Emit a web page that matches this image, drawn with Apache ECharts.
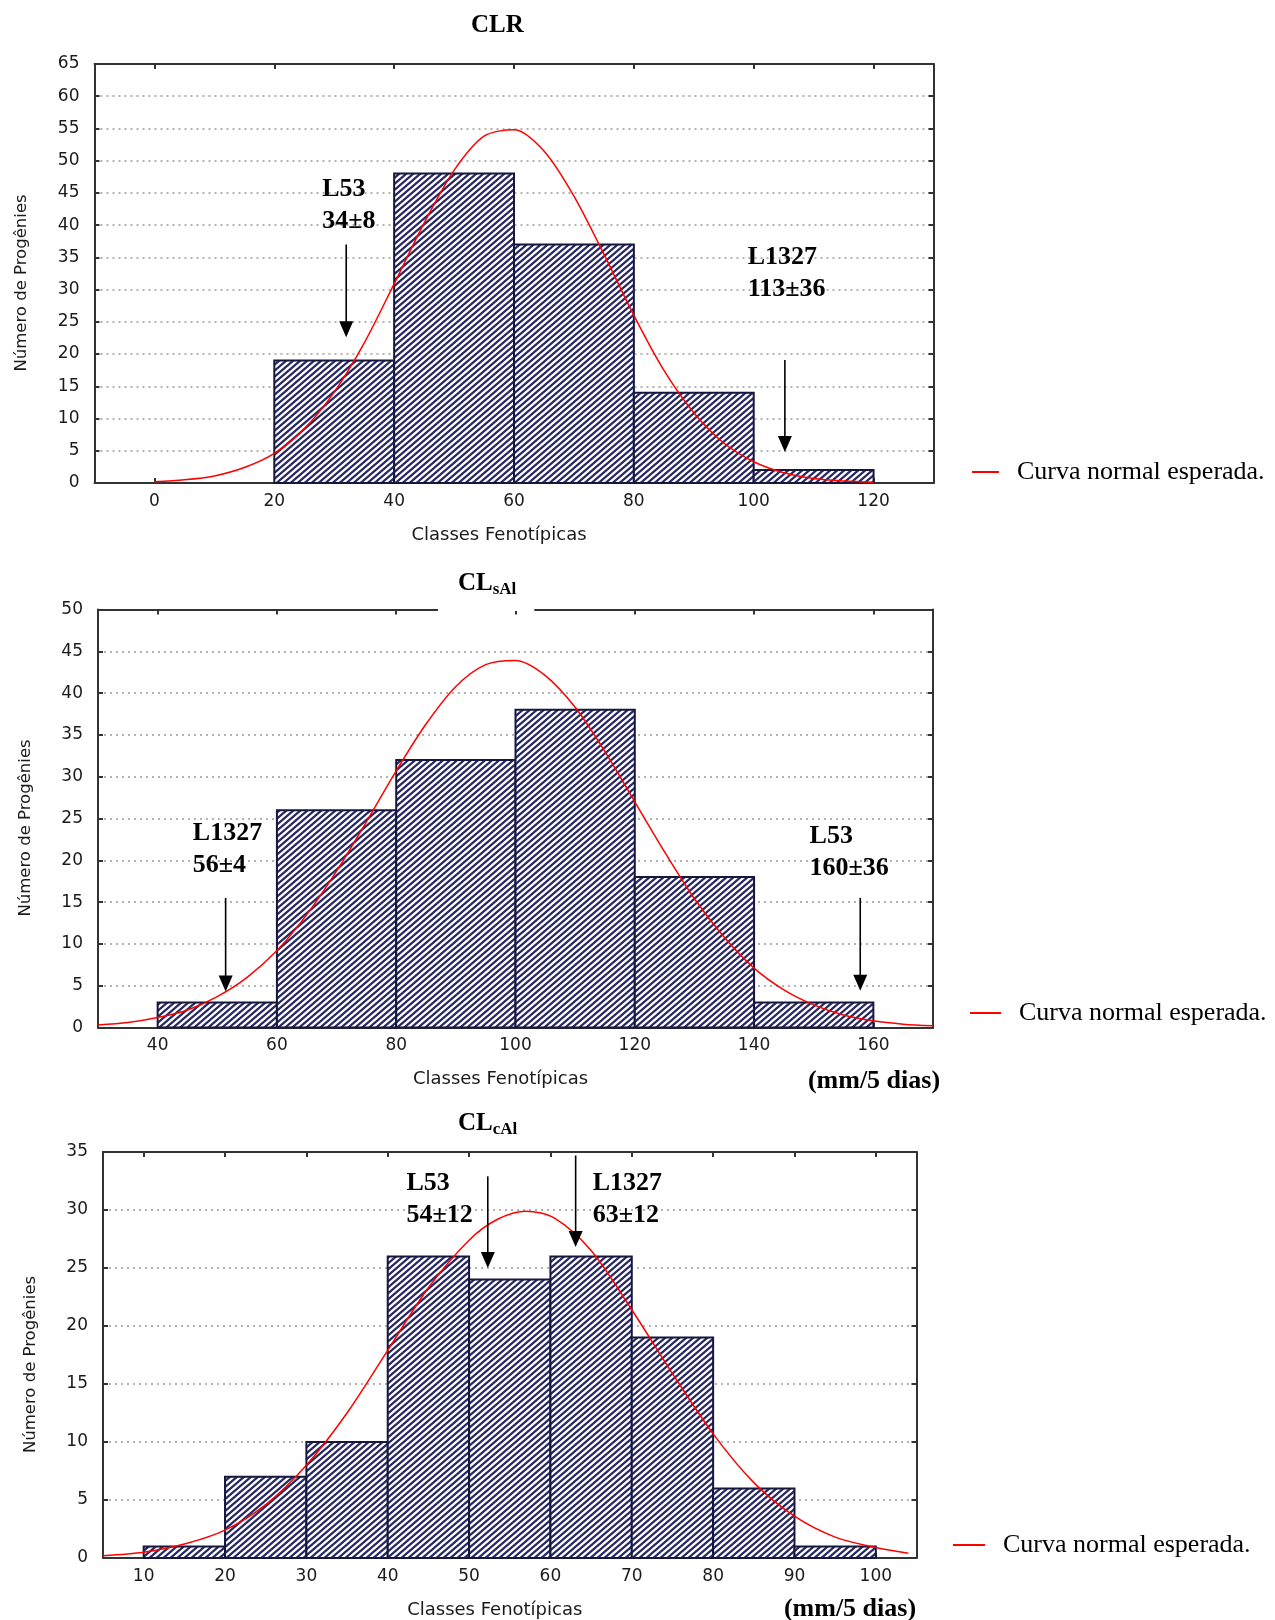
<!DOCTYPE html>
<html>
<head>
<meta charset="utf-8">
<script src="https://cdn.jsdelivr.net/npm/echarts@6/dist/echarts.min.js"></script>
<style>
    html, body { margin: 0; background: #fff; }
    #main { width: 1275px; height: 1620px; }
</style>
</head>
<body>
<div id="main"></div>
<script>
// ---------- data ----------
var legendName = 'Curva normal esperada.'
var xName = 'Classes Fenotípicas'
var yName = 'Número de Progênies'

// CLR
var clrEdges = [20, 40, 60, 80, 100, 120]
var clrCounts = [19, 48, 37, 14, 2]
var clrCurveX = [0, 5, 10, 15, 20, 25, 30, 35, 40, 45, 50, 55, 60, 65, 70, 75, 80, 85, 90, 95, 100, 105, 110, 115, 120]
var clrCurveY = [0.2, 0.5, 1.1, 2.4, 4.6, 8.4, 14.1, 21.7, 30.9, 40.3, 48.5, 53.8, 54.8, 51.5, 44.5, 35.5, 26.0, 17.5, 10.9, 6.2, 3.3, 1.6, 0.7, 0.3, 0.1]
var clrTicks = [0, 20, 40, 60, 80, 100, 120]
// arrow: x, from y, to y
var clrArrows = [[32.0, 37.0, 22.6], [105.2, 19.1, 4.8]]
var clrNotes = [[28.0, 43.1, 'L53\n34±8'], [99.0, 32.6, 'L1327\n113±36']]

// CL sAl
var clsEdges = [40, 60, 80, 100, 120, 140, 160]
var clsCounts = [3, 26, 32, 38, 18, 3]
var clsCurveX = [30, 35, 40, 45, 50, 55, 60, 65, 70, 75, 80, 85, 90, 95, 100, 105, 110, 115, 120, 125, 130, 135, 140, 145, 150, 155, 160, 165, 170]
var clsCurveY = [0.3, 0.6, 1.2, 2.1, 3.7, 6.0, 9.2, 13.5, 18.7, 24.6, 30.7, 36.3, 40.8, 43.4, 43.9, 42.1, 38.3, 33.0, 27.0, 21.0, 15.4, 10.8, 7.1, 4.5, 2.7, 1.5, 0.8, 0.4, 0.2]
var clsTicks = [40, 60, 80, 100, 120, 140, 160]
var clsArrows = [[51.4, 15.5, 4.3], [157.8, 15.5, 4.4]]
var clsNotes = [[45.9, 21.3, 'L1327\n56±4'], [149.3, 20.9, 'L53\n160±36']]

// CL cAl
var clcEdges = [10, 20, 30, 40, 50, 60, 70, 80, 90, 100]
var clcCounts = [1, 7, 10, 26, 24, 26, 19, 6, 1]
var clcCurveX = [5, 10, 15, 20, 25, 30, 35, 40, 45, 50, 53.5, 57, 60.5, 65, 70, 75, 80, 85, 90, 95, 100, 104]
var clcCurveY = [0.2, 0.5, 1.2, 2.4, 4.6, 8.0, 12.5, 17.9, 23.3, 27.4, 29.2, 29.9, 29.3, 26.5, 21.4, 15.9, 10.7, 6.5, 3.6, 1.8, 0.9, 0.4]
var clcTicks = [10, 20, 30, 40, 50, 60, 70, 80, 90, 100]
var clcArrows = [[52.3, 32.9, 25.0], [63.1, 34.7, 26.8]]
var clcNotes = [[42.3, 30.9, 'L53\n54±12'], [65.2, 30.9, 'L1327\n63±12']]

// ---------- layout ----------
var charts = [
    { edges: clrEdges, counts: clrCounts, cx: clrCurveX, cy: clrCurveY, ticks: clrTicks,
      xMin: -10, xMax: 130, yMax: 65, arrows: clrArrows, notes: clrNotes,
      grid: { left: 94.5, top: 64, width: 839, height: 419 },
      legend: { left: 972, top: 459, w: 27 } },
    { edges: clsEdges, counts: clsCounts, cx: clsCurveX, cy: clsCurveY, ticks: clsTicks,
      xMin: 30, xMax: 170, yMax: 50, arrows: clsArrows, notes: clsNotes,
      grid: { left: 98, top: 609.5, width: 835, height: 418 },
      legend: { left: 970, top: 1000, w: 31 } },
    { edges: clcEdges, counts: clcCounts, cx: clcCurveX, cy: clcCurveY, ticks: clcTicks,
      xMin: 5, xMax: 105, yMax: 35, arrows: clcArrows, notes: clcNotes,
      grid: { left: 103, top: 1152, width: 813.5, height: 406.5 },
      legend: { left: 953, top: 1532, w: 32 } },
]

var axisColor = '#333'
var sansFont = 'DejaVu Sans'
var serifFont = 'Liberation Serif'

// diagonal hatch used for the histogram bars
var hatch = (function () {
    var w = 7, h = 6
    var c = document.createElement('canvas')
    c.width = w
    c.height = h
    var ctx = c.getContext('2d')
    ctx.fillStyle = '#ffffff'
    ctx.fillRect(0, 0, w, h)
    ctx.strokeStyle = '#272864'
    ctx.lineWidth = 2.2
    ctx.beginPath()
    ;[-w, 0, w].forEach(function (dx) {
        ctx.moveTo(dx - w, 2 * h)
        ctx.lineTo(dx + 2 * w, -h)
    })
    ctx.stroke()
    return c
})()

function renderBar(params, api) {
    var p0 = api.coord([api.value(0), api.value(2)])
    var p1 = api.coord([api.value(1), 0])
    return {
        type: 'rect',
        shape: { x: p0[0], y: p0[1], width: p1[0] - p0[0], height: p1[1] - p0[1] },
        style: { fill: { image: hatch, repeat: 'repeat' }, stroke: '#16173f', lineWidth: 2 },
    }
}

function renderArrow(params, api) {
    var top = api.coord([api.value(0), api.value(1)])
    var tip = api.coord([api.value(0), api.value(2)])
    return {
        type: 'group',
        children: [
            { type: 'line', shape: { x1: top[0], y1: top[1], x2: tip[0], y2: tip[1] - 12 },
              style: { stroke: '#000', lineWidth: 1.6 } },
            { type: 'polygon', shape: { points: [[tip[0] - 7, tip[1] - 16], [tip[0] + 7, tip[1] - 16], [tip[0], tip[1]]] },
              style: { fill: '#000' } },
        ],
    }
}

function noteRenderer(notes) {
    return function (params, api) {
        var p = api.coord([api.value(0), api.value(1)])
        return {
            type: 'text',
            x: p[0],
            y: p[1],
            style: {
                text: notes[params.dataIndex][2],
                fontFamily: serifFont,
                fontWeight: 'bold',
                fontSize: 26,
                lineHeight: 32,
                fill: '#000',
                align: 'left',
                verticalAlign: 'middle',
            },
        }
    }
}

var xAxis = []
var yAxis = []
var series = []
var legend = []

charts.forEach(function (c, i) {
    var lineStyle = { color: axisColor, width: 2 }
    xAxis.push({
        gridIndex: i, type: 'value', min: c.xMin, max: c.xMax, position: 'bottom',
        axisLine: { show: true, onZero: false, lineStyle: lineStyle },
        axisTick: { show: true, inside: true, length: 5, customValues: c.ticks, lineStyle: lineStyle },
        axisLabel: { customValues: c.ticks, margin: 10, fontFamily: sansFont, fontSize: 17, color: '#1a1a1a' },
        splitLine: { show: false },
        name: xName, nameLocation: 'middle', nameGap: 43,
        nameTextStyle: { fontFamily: sansFont, fontSize: 18, color: '#1a1a1a', padding: [0, 30, 0, 0] },
    })
    xAxis.push({
        gridIndex: i, type: 'value', min: c.xMin, max: c.xMax, position: 'top',
        axisLine: { show: true, onZero: false, lineStyle: lineStyle },
        axisTick: { show: true, inside: true, length: 5, customValues: c.ticks, lineStyle: lineStyle },
        axisLabel: { show: false },
        splitLine: { show: false },
    })
    yAxis.push({
        gridIndex: i, type: 'value', min: 0, max: c.yMax, interval: 5, position: 'left',
        axisLine: { show: true, onZero: false, lineStyle: lineStyle },
        axisTick: { show: true, inside: true, length: 5, lineStyle: lineStyle },
        axisLabel: { margin: 15, fontFamily: sansFont, fontSize: 17, color: '#1a1a1a' },
        splitLine: { show: true, lineStyle: { color: '#9a9a9a', width: 1.5, type: [2, 4] } },
        name: yName, nameLocation: 'middle', nameGap: 64,
        nameTextStyle: { fontFamily: sansFont, fontSize: 16.5, color: '#1a1a1a', padding: [0, 19, 0, 0] },
    })
    yAxis.push({
        gridIndex: i, type: 'value', min: 0, max: c.yMax, interval: 5, position: 'right',
        axisLine: { show: true, onZero: false, lineStyle: lineStyle },
        axisTick: { show: true, inside: true, length: 5, lineStyle: lineStyle },
        axisLabel: { show: false },
        splitLine: { show: false },
    })

    var bins = c.counts.map(function (n, k) {
        return [c.edges[k], c.edges[k + 1], n]
    })
    var curve = c.cx.map(function (x, k) {
        return [x, c.cy[k]]
    })

    series.push({
        type: 'custom', xAxisIndex: 2 * i, yAxisIndex: 2 * i, z: 2, silent: true,
        renderItem: renderBar, data: bins,
    })
    series.push({
        type: 'line', name: legendName, xAxisIndex: 2 * i, yAxisIndex: 2 * i, z: 3,
        data: curve, smooth: 0.3, symbol: 'none', silent: true,
        lineStyle: { color: '#ff0000', width: 1.5 }, itemStyle: { color: '#ff0000' },
    })
    series.push({
        type: 'custom', xAxisIndex: 2 * i, yAxisIndex: 2 * i, z: 4, silent: true,
        renderItem: renderArrow, data: c.arrows,
    })
    series.push({
        type: 'custom', xAxisIndex: 2 * i, yAxisIndex: 2 * i, z: 5, silent: true, clip: false,
        renderItem: noteRenderer(c.notes),
        data: c.notes.map(function (n) { return [n[0], n[1]] }),
    })

    legend.push({
        data: [legendName], left: c.legend.left, top: c.legend.top, padding: 0,
        icon: 'rect', itemWidth: c.legend.w, itemHeight: 2, selectedMode: false,
        textStyle: { fontFamily: serifFont, fontSize: 26, color: '#000', padding: [0, 0, 0, 13] },
    })
})

var titleFont = { fontFamily: serifFont, fontWeight: 'bold', color: '#000' }
var subRich = {
    a: Object.assign({ fontSize: 25, lineHeight: 28 }, titleFont),
    s: Object.assign({ fontSize: 17, lineHeight: 18, verticalAlign: 'bottom' }, titleFont),
}

var option = {
    backgroundColor: '#ffffff',
    animation: false,
    title: [
        { text: 'CLR', left: 471, top: 13, padding: 0,
          textStyle: Object.assign({ fontSize: 25 }, titleFont) },
        { text: '{a|CL}{s|sAl}', left: 438, top: 564, padding: [6, 18, 13, 20], backgroundColor: '#ffffff',
          textStyle: { rich: subRich } },
        { text: '{a|CL}{s|cAl}', left: 458, top: 1110, padding: 0,
          textStyle: { rich: subRich } },
    ],
    legend: legend,
    grid: charts.map(function (c) { return c.grid }),
    xAxis: xAxis,
    yAxis: yAxis,
    series: series,
    graphic: [
        { type: 'text', x: 874, y: 1081, style: { text: '(mm/5 dias)', fontFamily: serifFont, fontWeight: 'bold',
          fontSize: 26, fill: '#000', align: 'center', verticalAlign: 'middle' } },
        { type: 'text', x: 850, y: 1609, style: { text: '(mm/5 dias)', fontFamily: serifFont, fontWeight: 'bold',
          fontSize: 26, fill: '#000', align: 'center', verticalAlign: 'middle' } },
    ],
}

var myChart = echarts.init(document.getElementById('main'))
myChart.setOption(option)
</script>
</body>
</html>
